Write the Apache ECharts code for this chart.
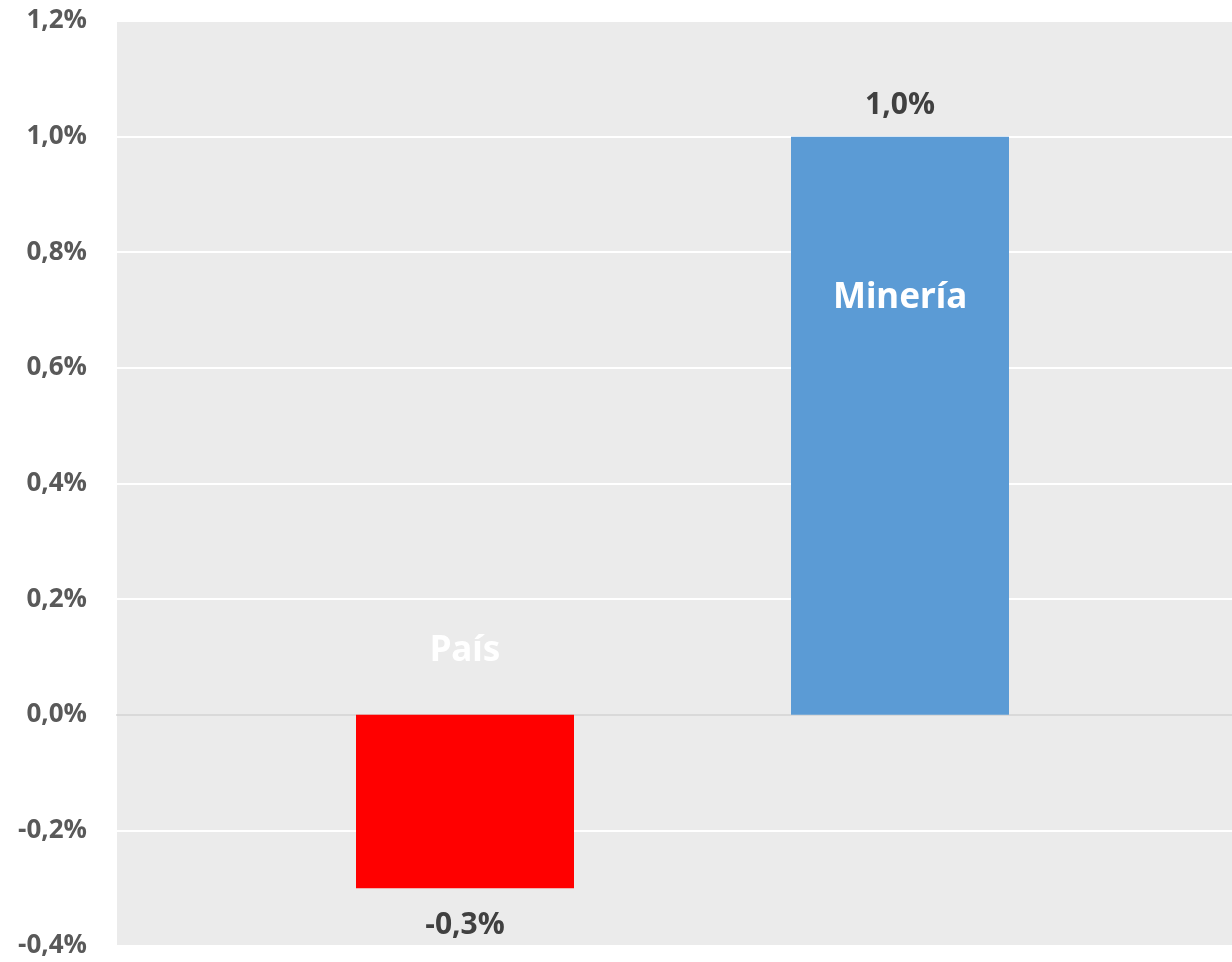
<!DOCTYPE html>
<html>
<head>
<meta charset="utf-8">
<script src="https://cdn.jsdelivr.net/npm/echarts@6/dist/echarts.min.js"></script>
<style>html,body{margin:0;padding:0;background:#fff}#c{width:1232px;height:962px}</style>
</head>
<body>
<div id="c"></div>
<script>
const categories = ['País', 'Minería'];
const values = [-0.3, 1.0];
const barColors = ['#ff0000', '#5b9bd5'];
const yMin = -0.4, yMax = 1.2, yStep = 0.2;

const fmt = v => v.toFixed(1).replace('.', ',') + '%';
const chart = echarts.init(document.getElementById('c'));
chart.setOption({
  animation: false,
  grid: [
    {left: 117, right: 0, top: 21, bottom: 16, show: true, backgroundColor: '#ebebeb', borderWidth: 0},
    {left: 247.5, right: 114.5, top: 21, bottom: 16}
  ],
  xAxis: [
    {type: 'category', gridIndex: 0, data: categories,
     axisLine: {show: true, onZero: true, lineStyle: {color: '#d9d9d9', width: 2}},
     axisTick: {show: false}, axisLabel: {show: false}, splitLine: {show: false}},
    {type: 'category', gridIndex: 1, data: categories,
     axisLine: {show: false}, axisTick: {show: false}, axisLabel: {show: false}}
  ],
  yAxis: [
    {type: 'value', gridIndex: 0, min: yMin, max: yMax, interval: yStep,
     axisLine: {show: false}, axisTick: {show: false},
     axisLabel: {formatter: v => fmt(v), fontFamily: 'Open Sans', fontWeight: 'bold', fontSize: 26, color: '#595959', margin: 30},
     splitLine: {lineStyle: {color: '#ffffff', width: 2}}},
    {type: 'value', gridIndex: 1, min: yMin, max: yMax, interval: yStep,
     axisLine: {show: false}, axisTick: {show: false}, axisLabel: {show: false}, splitLine: {show: false}}
  ],
  series: [
    {type: 'bar', xAxisIndex: 1, yAxisIndex: 1, barWidth: 218,
     data: values.map((v, i) => ({value: v, itemStyle: {color: barColors[i]},
       label: v < 0 ? {position: 'bottom', distance: 22} : {position: 'top', distance: 16}})),
     label: {show: true, formatter: p => fmt(p.value),
       fontFamily: 'Open Sans', fontWeight: 'bold', fontSize: 30, color: '#404040'}},
    {type: 'bar', xAxisIndex: 1, yAxisIndex: 1, barWidth: 218, barGap: '-100%',
     data: values.map((v, i) => ({value: v, itemStyle: {color: 'rgba(0,0,0,0)'},
       label: i === 0 ? {position: 'top', distance: 46} : {position: 'insideTop', distance: 144}})),
     label: {show: true, formatter: p => p.name,
       fontFamily: 'Noto Sans', fontWeight: 'bold', fontSize: 35, color: '#ffffff'}}
  ]
});
</script>
</body>
</html>
